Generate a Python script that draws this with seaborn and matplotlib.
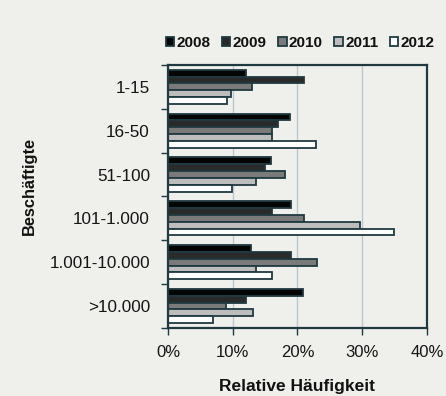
import matplotlib
matplotlib.use("Agg")
import matplotlib.pyplot as plt
import seaborn as sns
import pandas as pd
from matplotlib.ticker import FuncFormatter, FixedLocator

categories = ["1-15", "16-50", "51-100", "101-1.000", "1.001-10.000", ">10.000"]
years = ["2008", "2009", "2010", "2011", "2012"]
v2008 = [12.0, 18.9, 15.9, 19.0, 12.9, 20.9]
v2009 = [21.0, 17.0, 15.0, 16.1, 19.0, 12.1]
v2010 = [13.0, 16.0, 18.1, 21.0, 23.0, 9.0]
v2011 = [9.7, 16.1, 13.6, 29.7, 13.6, 13.1]
v2012 = [9.1, 22.9, 9.9, 35.0, 16.1, 7.0]
series = [v2008, v2009, v2010, v2011, v2012]

rows = []
for y, vals in zip(years, series):
    for c, v in zip(categories, vals):
        rows.append({"Beschäftigte": c, "Jahr": y, "Wert": v})
df = pd.DataFrame(rows)

sns.set_theme(style="white")
plt.rcParams["font.family"] = ["Liberation Sans", "DejaVu Sans"]

bg = "#efefec"
edge = "#1f3a40"
palette = {"2008": "#050505", "2009": "#2a2a2a", "2010": "#7a7a7a", "2011": "#bdbdbd", "2012": "#ffffff"}

fig = plt.figure(figsize=(4.46, 3.96), dpi=100, facecolor=bg)
ax = fig.add_axes([0.3767, 0.172, 0.5803, 0.664])
ax.set_facecolor(bg)

sns.barplot(data=df, y="Beschäftigte", x="Wert", hue="Jahr", order=categories,
            hue_order=years, palette=palette, orient="h", width=0.78,
            edgecolor=edge, linewidth=1.3, ax=ax, legend=True)

ax.set_xlim(0, 40)
ax.set_ylim(5.5, -0.5)
ax.set_xticks([0, 10, 20, 30, 40])
ax.xaxis.set_major_formatter(FuncFormatter(lambda v, p: f"{int(v)}%"))
ax.grid(axis="x", color="#b9c8d0", linewidth=1.0)
ax.set_axisbelow(True)
for s in ax.spines.values():
    s.set_color(edge)
    s.set_linewidth(1.6)
    s.set_visible(True)

ax.tick_params(axis="y", which="major", length=0, pad=13, labelsize=12.3, labelcolor="#151515")
ax.yaxis.set_minor_locator(FixedLocator([i - 0.5 for i in range(len(categories) + 1)]))
ax.tick_params(axis="y", which="minor", length=5, color=edge, width=1, direction="out", left=True)
ax.tick_params(axis="x", which="major", length=5, color=edge, width=1, direction="out",
               bottom=True, pad=7, labelsize=12, labelcolor="#151515")

ax.set_xlabel("Relative Häufigkeit", fontsize=12.5, fontweight="bold", color="#111111")
ax.xaxis.set_label_coords(0.5, -0.195)
ax.set_ylabel("Beschäftigte", fontsize=11.8, fontweight="bold", color="#111111")
ax.yaxis.set_label_coords(-0.505, 0.54)

handles, labels = ax.get_legend_handles_labels()
ax.get_legend().remove()
leg = fig.legend(handles, labels, loc="center", bbox_to_anchor=(0.673, 0.892), ncol=5,
                 frameon=False, handlelength=0.55, handleheight=0.55, handletextpad=0.15,
                 columnspacing=0.75, prop={"weight": "bold", "size": 11})
for t in leg.get_texts():
    t.set_color("#111111")

fig.savefig("out.png", dpi=100, facecolor=bg)
